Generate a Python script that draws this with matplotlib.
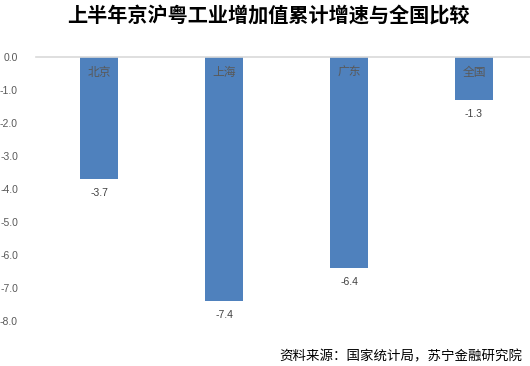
import matplotlib
matplotlib.use("Agg")
import matplotlib.pyplot as plt

plt.rcParams['font.family'] = ['Noto Sans CJK SC', 'DejaVu Sans']

# data
regions = ['北京', '上海', '广东', '全国']
growth = [-3.7, -7.4, -6.4, -1.3]
yticks = [0, -1, -2, -3, -4, -5, -6, -7, -8]

fig = plt.figure(figsize=(5.3, 3.66), dpi=100)
ax = fig.add_axes([36 / 530, 45 / 366, 494 / 530, 264 / 366])

x = list(range(len(regions)))
bars = ax.bar(x, growth, width=0.31, color='#4F81BD', zorder=2)

ax.set_xlim(-0.504, 3.448)
ax.set_ylim(-8.0, 0.0)
ax.set_yticks(yticks)
ax.set_yticklabels([f'{v:.1f}' for v in yticks], fontsize=7.5, color='#595959',
                   family=['Liberation Sans', 'DejaVu Sans'])
ax.tick_params(axis='y', length=0, pad=13)
ax.set_xticks([])

for s in ['left', 'right', 'bottom']:
    ax.spines[s].set_visible(False)
ax.spines['top'].set_color('#D9D9D9')
ax.spines['top'].set_linewidth(1.2)

# category names inside bars, values under bars
for xi, name, v in zip(x, regions, growth):
    ax.text(xi, -0.47, name, ha='center', va='center', fontsize=8.5, color='#595959')
    ax.text(xi, v - 0.42, f'{v:.1f}', ha='center', va='center', fontsize=7.5,
            color='#404040', family=['Liberation Sans', 'DejaVu Sans'])

fig.text(0.506, 0.955, '上半年京沪粤工业增加值累计增速与全国比较', ha='center', va='center',
         fontsize=14.5, fontweight='bold', color='black')
fig.text(0.985, 0.025, '资料来源：国家统计局，苏宁金融研究院', ha='right', va='center',
         fontsize=9.7, style='italic', color='black')

fig.savefig('out.png', dpi=100)
